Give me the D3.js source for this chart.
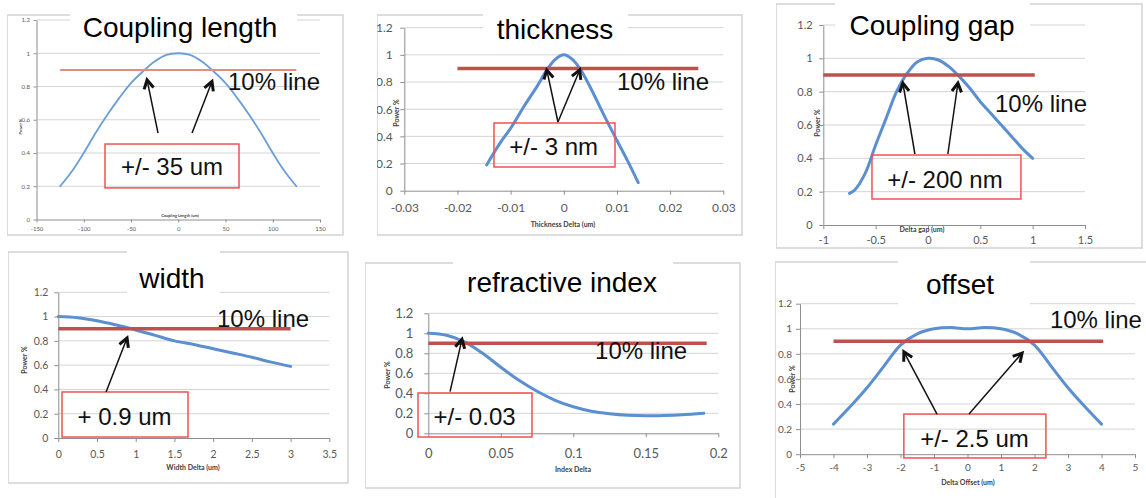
<!DOCTYPE html>
<html><head><meta charset="utf-8">
<script src="https://cdn.jsdelivr.net/npm/d3@7"></script>
<style>body{margin:0;background:#fff}svg{display:block}</style>
</head><body><svg id="c" width="1146" height="498"></svg>
<script>
// ---------- data ----------
const powerTicks = [0, 0.2, 0.4, 0.6, 0.8, 1, 1.2];
const threshold = 0.9;

const couplingLengthX = [-125,-112.5,-100,-87.5,-75,-62.5,-50,-37.5,-25,-12.5,0,12.5,25,37.5,50,62.5,75,87.5,100,112.5,125];
const couplingLengthPower = [0.2,0.29,0.4,0.52,0.63,0.73,0.82,0.89,0.95,0.99,1.0,0.99,0.95,0.89,0.82,0.73,0.63,0.52,0.4,0.29,0.2];
const couplingLengthTicks = [-150,-100,-50,0,50,100,150];
const couplingLengthLineX = [-125,125];

const thicknessX = [-0.0145,-0.012,-0.01,-0.0075,-0.005,-0.003,-0.0015,0,0.0015,0.003,0.005,0.0075,0.01,0.012,0.014];
const thicknessPower = [0.19,0.35,0.46,0.62,0.77,0.9,0.97,1.0,0.97,0.9,0.76,0.56,0.37,0.22,0.06];
const thicknessTicks = [-0.03,-0.02,-0.01,0,0.01,0.02,0.03];
const thicknessLineX = [-0.02,0.0253];

const gapX = [-0.75,-0.7,-0.6,-0.5,-0.4,-0.3,-0.2,-0.1,0,0.1,0.2,0.3,0.4,0.5,0.6,0.7,0.8,0.9,1.0];
const gapPower = [0.19,0.21,0.31,0.48,0.64,0.8,0.91,0.98,1.0,0.99,0.95,0.89,0.82,0.74,0.67,0.6,0.53,0.46,0.4];
const gapTicks = [-1,-0.5,0,0.5,1,1.5];
const gapLineX = [-1,1.02];

const widthX = [0,0.25,0.5,0.75,1,1.25,1.5,1.75,2,2.25,2.5,2.75,3];
const widthPower = [1.0,0.99,0.965,0.93,0.89,0.845,0.8,0.77,0.735,0.7,0.665,0.625,0.59];
const widthTicks = [0,0.5,1,1.5,2,2.5,3,3.5];
const widthLineX = [0,3];

const indexX = [0,0.0125,0.025,0.0375,0.05,0.0625,0.075,0.0875,0.1,0.1125,0.125,0.1375,0.15,0.1625,0.175,0.19];
const indexPower = [1.0,0.98,0.915,0.8,0.66,0.53,0.42,0.33,0.265,0.22,0.195,0.18,0.175,0.178,0.185,0.2];
const indexTicks = [0,0.05,0.1,0.15,0.2];
const indexLineX = [0,0.192];

const offsetX = [-4,-3.5,-3,-2.5,-2,-1.5,-1,-0.5,0,0.5,1,1.5,2,2.5,3,3.5,4];
const offsetPower = [0.24,0.38,0.53,0.7,0.87,0.96,1.0,1.01,1.0,1.01,1.0,0.96,0.87,0.7,0.53,0.38,0.24];
const offsetTicks = [-5,-4,-3,-2,-1,0,1,2,3,4,5];
const offsetLineX = [-4,4.05];

const titles = ['Coupling length','thickness','Coupling gap','width','refractive index','offset'];
const xAxisTitles = ['Coupling Length (um)','Thickness Delta (um)','Delta gap (um)','Width Delta (um)','Index Delta','Delta Offset (um)'];
const toleranceLabels = ['+/- 35 um','+/- 3 nm','+/- 200 nm','+ 0.9 um','+/- 0.03','+/- 2.5 um'];
const lineLabel = '10% line';

// ---------- layout ----------
const panels = [
 { xs:couplingLengthX, ys:couplingLengthPower, ticks:couplingLengthTicks, dom:[-150,150], redX:couplingLengthLineX,
   frame:[7,15,343,235], xr:[36.5,320], yr:[219.5,20], tf:6, ts:3, yPad:3.5, xPad:4.3,
   tX:180, tY:37, gap:[70,297], xtPos:[180,216], ytPos:[20.7,126.7], atf:4,
   box:[-77.5,0.454,64.3,0.19], boxTxt:[-6.6,0.268], arrows:[[-21.4,0.52,-33,0.84],[14.6,0.52,35.7,0.83]], lbl:[52.6,0.78], thin:true },
 { xs:thicknessX, ys:thicknessPower, ticks:thicknessTicks, dom:[-0.03,0.03], redX:thicknessLineX,
   frame:[377,15,742,235], xr:[404.3,723.3], yr:[190.7,27.7], tf:12, ts:4, yPad:7.6, xPad:9,
   tX:555, tY:39, gap:[483,628], xtPos:[563,225], ytPos:[397,113], atf:7,
   box:[-0.01313,0.4985,0.00963,0.1745], boxTxt:[-0.0019,0.263], arrows:[[-0.0011,0.506,-0.0032,0.889],[-0.0011,0.506,0.003,0.889]], lbl:[0.01,0.742] },
 { xs:gapX, ys:gapPower, ticks:gapTicks, dom:[-1,1.5], redX:gapLineX,
   frame:[776,4,1142,248], xr:[823.3,1085], yr:[225,25], tf:11, ts:4, yPad:6.6, xPad:7,
   tX:932, tY:35, gap:[835,1030], xtPos:[922,230], ytPos:[818,123], atf:7,
   box:[-0.535,0.42,0.888,0.156], boxTxt:[0.162,0.222], arrows:[[-0.125,0.426,-0.24,0.852],[0.19,0.426,0.286,0.852]], lbl:[0.64,0.678] },
 { xs:widthX, ys:widthPower, ticks:widthTicks, dom:[0,3.5], redX:widthLineX,
   frame:[8,252,348,483], xr:[58.3,329.3], yr:[438,292.3], tf:10.5, ts:4, yPad:6, xPad:9,
   tX:172, tY:288, gap:[127,220], xtPos:[193,468], ytPos:[25,360], atf:7,
   box:[0.048,0.379,1.675,0.008], boxTxt:[0.855,0.107], arrows:[[0.617,0.379,0.888,0.824]], lbl:[2.05,0.917] },
 { xs:indexX, ys:indexPower, ticks:indexTicks, dom:[0,0.2], redX:indexLineX,
   frame:[365,263,740,488], xr:[428.3,718.3], yr:[433.3,313.3], tf:13, ts:4, yPad:11, xPad:11,
   tX:562, tY:292, gap:[453,673], xtPos:[573,470], ytPos:[388,375], atf:7,
   box:[-0.0071,0.403,0.0715,-0.037], boxTxt:[0.0319,0.083], arrows:[[0.015,0.416,0.0232,0.94]], lbl:[0.115,0.743] },
 { xs:offsetX, ys:offsetPower, ticks:offsetTicks, dom:[-5,5], redX:offsetLineX,
   frame:[775,262,1160,520], xr:[800,1135], yr:[454.2,303.7], tf:10, ts:4, yPad:4, xPad:6,
   tX:960, tY:294, gap:[898,1030], xtPos:[968,483], ytPos:[793,379], atf:7,
   box:[-1.9,0.32,2.34,-0.03], boxTxt:[0.209,0.057], arrows:[[-0.91,0.32,-1.9,0.816],[0.045,0.32,1.63,0.807]], lbl:[2.46,1.009] }
];

const svg = d3.select('#c');
const TICKFONT = 'Lato, "Liberation Sans", sans-serif';
const ANNFONT = '"Liberation Sans", Arial, sans-serif';

panels.forEach((p, i) => {
  const [fx0, fy0, fx1, fy1] = p.frame;
  const clipId = 'clip' + i;
  svg.append('clipPath').attr('id', clipId).append('rect')
    .attr('x', fx0).attr('y', fy0 - 10).attr('width', fx1 - fx0 + 2).attr('height', fy1 - fy0 + 12);
  const g = svg.append('g').attr('clip-path', `url(#${clipId})`);

  g.append('rect').attr('x', fx0).attr('y', fy0).attr('width', fx1 - fx0).attr('height', fy1 - fy0)
    .attr('fill', '#fff').attr('stroke', '#d2d2d2').attr('stroke-width', 1.5);

  const x = d3.scaleLinear().domain(p.dom).range(p.xr);
  const y = d3.scaleLinear().domain([0, 1.2]).range(p.yr);

  // gridlines
  g.append('g').selectAll('line').data(powerTicks.filter(v => v > 0)).join('line')
    .attr('x1', p.xr[0]).attr('x2', p.xr[1])
    .attr('y1', d => y(d)).attr('y2', d => y(d))
    .attr('stroke', '#d4d4d4').attr('stroke-width', 1);

  const fmt = d => String(d);
  const ya = g.append('g').attr('transform', `translate(${p.xr[0]},0)`)
    .call(d3.axisLeft(y).tickValues(powerTicks).tickFormat(fmt).tickSize(p.ts).tickSizeOuter(0).tickPadding(p.yPad));
  const xa = g.append('g').attr('transform', `translate(0,${p.yr[0]})`)
    .call(d3.axisBottom(x).tickValues(p.ticks).tickFormat(fmt).tickSize(p.ts).tickSizeOuter(0).tickPadding(p.xPad));
  [ya, xa].forEach(a => {
    a.select('.domain').attr('stroke', '#8e8e8e');
    a.selectAll('.tick line').attr('stroke', '#8e8e8e');
    a.selectAll('.tick text').attr('fill', '#595959').style('font-family', TICKFONT).style('font-size', p.tf + 'px');
  });

  // axis titles
  g.append('text').attr('x', p.xtPos[0]).attr('y', p.xtPos[1]).attr('text-anchor', 'middle')
    .attr('dominant-baseline', 'middle')
    .style('font-family', TICKFONT).style('font-weight', 'bold').style('font-size', p.atf + 'px')
    .attr('fill', '#404040').text(xAxisTitles[i]);
  g.append('text').attr('transform', `translate(${p.ytPos[0]},${p.ytPos[1]}) rotate(-90)`)
    .attr('text-anchor', 'middle').attr('dominant-baseline', 'middle')
    .style('font-family', TICKFONT).style('font-weight', 'bold').style('font-size', p.atf + 'px')
    .attr('fill', '#404040').text('Power %');

  // title with white backing
  g.append('rect').attr('x', p.gap[0]).attr('y', fy0 - 4).attr('width', p.gap[1] - p.gap[0])
    .attr('height', p.tY + 11 - (fy0 - 4)).attr('fill', '#fff');
  g.append('text').attr('x', p.tX).attr('y', p.tY).attr('text-anchor', 'middle')
    .style('font-family', ANNFONT).style('font-size', '28px').attr('fill', '#000').text(titles[i]);

  // curve
  const line = d3.line().x(d => x(d[0])).y(d => y(d[1])).curve(d3.curveCatmullRom.alpha(0.5));
  g.append('path').datum(p.xs.map((v, k) => [v, p.ys[k]])).attr('d', line)
    .attr('fill', 'none').attr('stroke', p.thin ? '#6a9fd8' : '#5b8fd0')
    .attr('stroke-width', p.thin ? 1.8 : 3).attr('stroke-linecap', 'round');

  // 10% line
  g.append('line').attr('x1', x(p.redX[0])).attr('x2', x(p.redX[1]))
    .attr('y1', y(threshold)).attr('y2', y(threshold))
    .attr('stroke', p.thin ? '#e58a86' : '#c0504d').attr('stroke-width', p.thin ? 2 : 3.5);

  // tolerance box
  g.append('rect').attr('x', x(p.box[0])).attr('y', y(p.box[1]))
    .attr('width', x(p.box[2]) - x(p.box[0])).attr('height', y(p.box[3]) - y(p.box[1]))
    .attr('fill', 'none').attr('stroke', '#f05252').attr('stroke-width', 1.5);
  g.append('text').attr('x', x(p.boxTxt[0])).attr('y', y(p.boxTxt[1])).attr('text-anchor', 'middle')
    .style('font-family', ANNFONT).style('font-size', '24px').attr('fill', '#111').text(toleranceLabels[i]);

  // arrows
  p.arrows.forEach(a => {
    const x1 = x(a[0]), y1 = y(a[1]), x2 = x(a[2]), y2 = y(a[3]);
    g.append('line').attr('x1', x1).attr('y1', y1).attr('x2', x2).attr('y2', y2)
      .attr('stroke', '#111').attr('stroke-width', 1.5);
    const ang = Math.atan2(y2 - y1, x2 - x1), L = 10, s = 0.5;
    const p1 = [x2 + L * Math.cos(ang + Math.PI - s), y2 + L * Math.sin(ang + Math.PI - s)];
    const p2 = [x2 + L * Math.cos(ang + Math.PI + s), y2 + L * Math.sin(ang + Math.PI + s)];
    g.append('path').attr('d', `M${p1}L${x2},${y2}L${p2}`)
      .attr('fill', 'none').attr('stroke', '#111').attr('stroke-width', 3).attr('stroke-linejoin', 'miter');
  });

  // 10% line label
  g.append('text').attr('x', x(p.lbl[0])).attr('y', y(p.lbl[1]))
    .style('font-family', ANNFONT).style('font-size', '24px').attr('fill', '#111').text(lineLabel);
});
</script></body></html>
